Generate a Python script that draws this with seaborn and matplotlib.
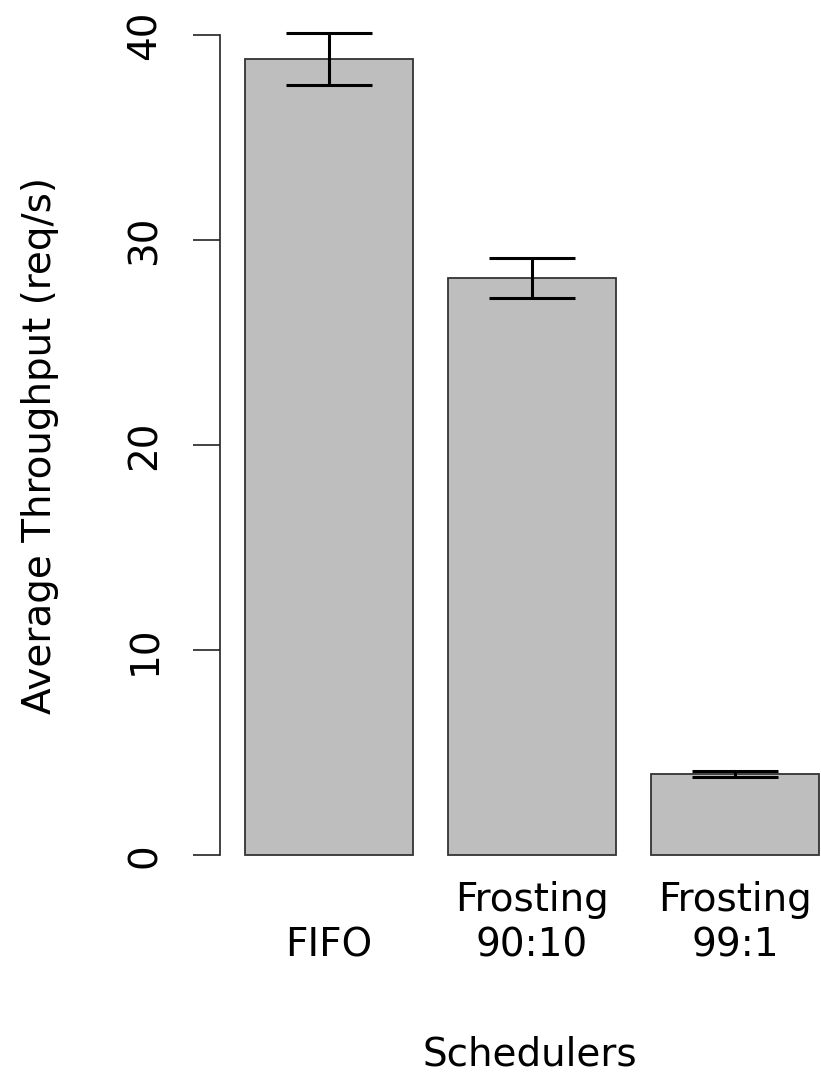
import matplotlib
matplotlib.use("Agg")
import matplotlib.pyplot as plt
import seaborn as sns
import numpy as np

schedulers = ["FIFO", "Frosting\n90:10", "Frosting\n99:1"]
throughput = [38.8, 28.15, 3.95]
err = [1.27, 0.97, 0.15]
y_ticks = [0, 10, 20, 30, 40]

sns.set_style("white")
plt.rcParams["font.family"] = ["DejaVu Sans"]
plt.rcParams["text.color"] = "black"
plt.rcParams["axes.labelcolor"] = "black"
plt.rcParams["xtick.color"] = "black"
plt.rcParams["ytick.color"] = "black"

fig = plt.figure(figsize=(8.21, 10.79), dpi=100)
W, H = 821, 1079
ax = fig.add_axes([220 / W, (H - 888) / H, (W - 220) / W, 886 / H])

sns.barplot(x=schedulers, y=throughput, color="#bebebe", saturation=1,
            width=0.83, edgecolor="#333333", linewidth=1.3, ax=ax)
ax.errorbar(range(len(schedulers)), throughput, yerr=err, fmt="none",
            ecolor="black", elinewidth=2.2, capsize=31, capthick=2.2)

ax.set_xlim(-0.537, 2.424)
ax.set_ylim(-1.6, 41.6)
sns.despine(ax=ax, top=True, right=True, bottom=True)
ax.spines["left"].set_bounds(0, 40)
ax.spines["left"].set_color("#222222")
ax.spines["left"].set_linewidth(1.2)

ax.set_yticks(y_ticks)
ax.tick_params(axis="y", direction="out", length=19.5, width=1.2, color="#222222",
               pad=21, labelsize=28, left=True, labelcolor="black")
for lab in ax.get_yticklabels():
    lab.set_rotation(90)
    lab.set_va("center")
ax.tick_params(axis="x", length=0, pad=55, labelsize=28, labelcolor="black")
for lab in ax.get_xticklabels():
    lab.set_va("bottom")
    lab.set_linespacing(1.25)

ax.set_xlabel("Schedulers", fontsize=28)
ax.xaxis.set_label_coords(0.516, -0.188)
ax.xaxis.label.set_va("center")
ax.set_ylabel("Average Throughput (req/s)", fontsize=28)
ax.yaxis.set_label_coords(-0.2995, 0.5)
ax.yaxis.label.set_va("center")

fig.savefig("out.png", dpi=100)
